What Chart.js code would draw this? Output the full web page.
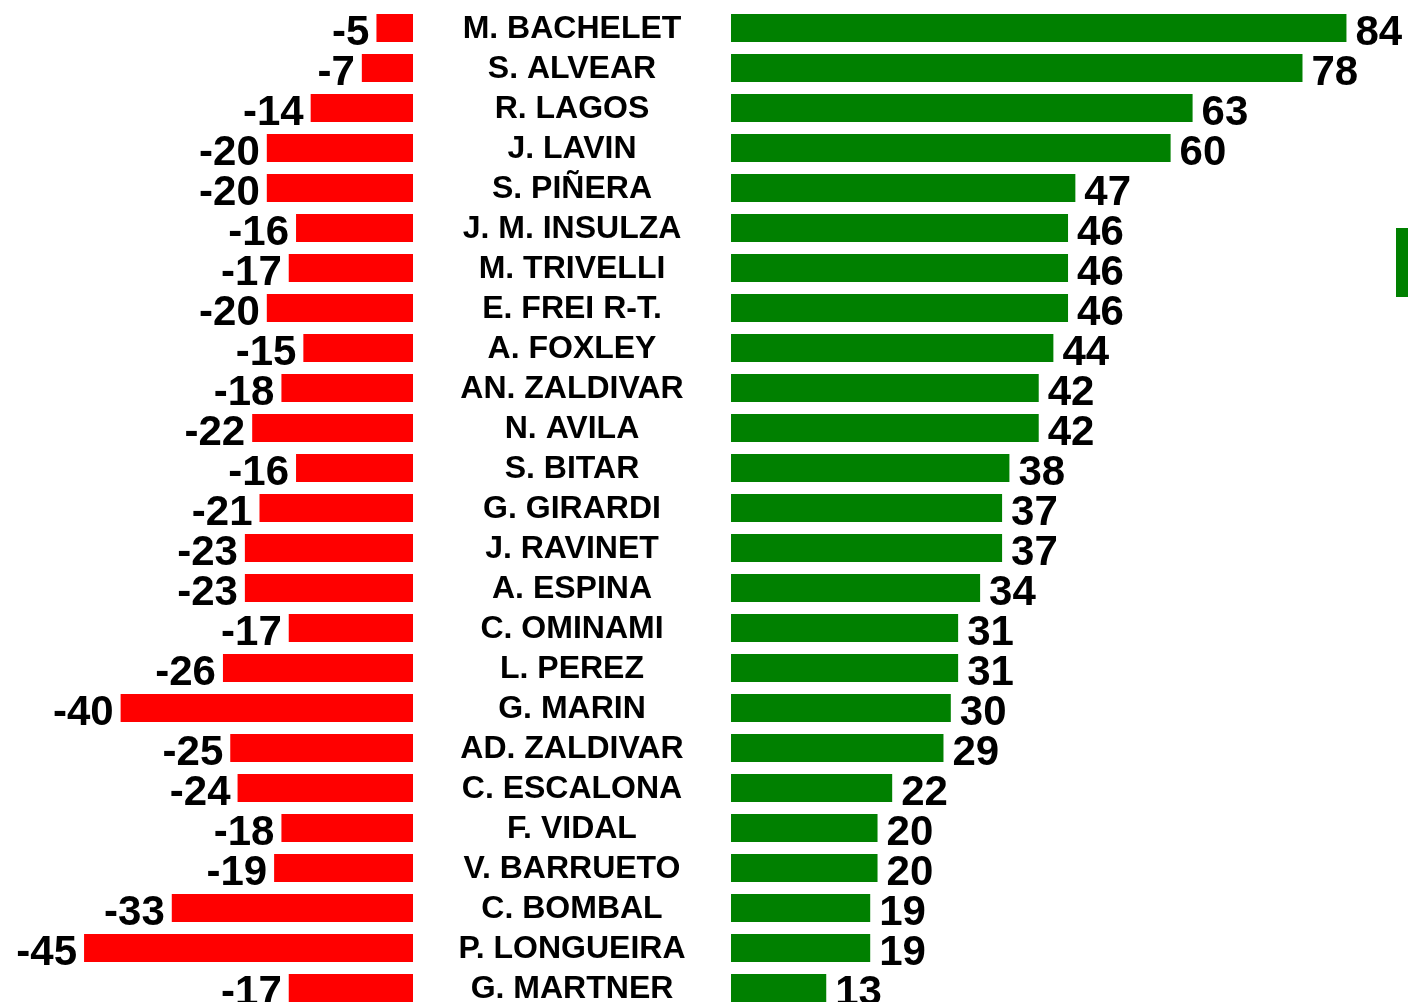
<!DOCTYPE html>
<html>
<head>
<meta charset="utf-8">
<script src="https://cdn.jsdelivr.net/npm/chart.js@4"></script>
<style>
  body { margin: 0; background: #fff; overflow: hidden; width: 1408px; height: 1002px; position: relative; }
  #izq { position: absolute; left: 0; top: 0; }
  #der { position: absolute; left: 413px; top: 0; }
  #marca { position: absolute; left: 1396px; top: 228px; width: 12px; height: 69px; background: #008000; }
</style>
</head>
<body>
<canvas id="izq" width="413" height="1008"></canvas>
<canvas id="der" width="995" height="1008"></canvas>
<div id="marca"></div>
<script>
// datos: nombres, evaluacion negativa y positiva
const nombres = ['M. BACHELET', 'S. ALVEAR', 'R. LAGOS', 'J. LAVIN', 'S. PIÑERA', 'J. M. INSULZA', 'M. TRIVELLI',
  'E. FREI R-T.', 'A. FOXLEY', 'AN. ZALDIVAR', 'N. AVILA', 'S. BITAR', 'G. GIRARDI', 'J. RAVINET', 'A. ESPINA',
  'C. OMINAMI', 'L. PEREZ', 'G. MARIN', 'AD. ZALDIVAR', 'C. ESCALONA', 'F. VIDAL', 'V. BARRUETO', 'C. BOMBAL',
  'P. LONGUEIRA', 'G. MARTNER'];
const negativos = [-5, -7, -14, -20, -20, -16, -17, -20, -15, -18, -22, -16, -21, -23, -23, -17, -26, -40, -25, -24, -18, -19, -33, -45, -17];
const positivos = [84, 78, 63, 60, 47, 46, 46, 46, 44, 42, 42, 38, 37, 37, 34, 31, 31, 30, 29, 22, 20, 20, 19, 19, 13];

const FUENTE = '"Liberation Sans", Arial, sans-serif';

// dibuja el valor al final de cada barra (y los nombres en el lado derecho)
const etiquetas = {
  id: 'etiquetas',
  afterDatasetsDraw(chart) {
    const ctx = chart.ctx;
    const lado = chart.options.plugins.etiquetas.lado;
    const ds = chart.data.datasets[0];
    ctx.save();
    ctx.fillStyle = '#000';
    ctx.textBaseline = 'middle';
    chart.getDatasetMeta(0).data.forEach((barra, i) => {
      const { x, y } = barra.getProps(['x', 'y'], true);
      ctx.font = 'bold 42px ' + FUENTE;
      if (lado === 'izq') {
        ctx.textAlign = 'right';
        ctx.fillText(String(ds.data[i]), x - 7, y + 5);
      } else {
        ctx.textAlign = 'left';
        ctx.fillText(String(ds.data[i]), x + 9, y + 5);
        ctx.font = 'bold 32px ' + FUENTE;
        ctx.textAlign = 'center';
        ctx.fillText(chart.data.labels[i], chart.chartArea.left / 2, y + 1);
      }
    });
    ctx.restore();
  }
};

new Chart(document.getElementById('izq'), {
  type: 'bar',
  data: {
    labels: nombres,
    datasets: [{ data: negativos, backgroundColor: '#ff0000', barPercentage: 0.7, categoryPercentage: 1 }]
  },
  options: {
    indexAxis: 'y',
    responsive: false,
    animation: false,
    layout: { padding: { top: 8, bottom: 0, left: 0, right: 0 } },
    plugins: { legend: { display: false }, tooltip: { enabled: false }, etiquetas: { lado: 'izq' } },
    scales: {
      x: { display: false, min: -56.5, max: 0 },
      y: { display: false }
    }
  },
  plugins: [etiquetas]
});

new Chart(document.getElementById('der'), {
  type: 'bar',
  data: {
    labels: nombres,
    datasets: [{ data: positivos, backgroundColor: '#008000', barPercentage: 0.7, categoryPercentage: 1 }]
  },
  options: {
    indexAxis: 'y',
    responsive: false,
    animation: false,
    layout: { padding: { top: 8, bottom: 0, left: 318, right: 0 } },
    plugins: { legend: { display: false }, tooltip: { enabled: false }, etiquetas: { lado: 'der' } },
    scales: {
      x: { display: false, min: 0, max: 92.4 },
      y: { display: false }
    }
  },
  plugins: [etiquetas]
});
</script>
</body>
</html>
